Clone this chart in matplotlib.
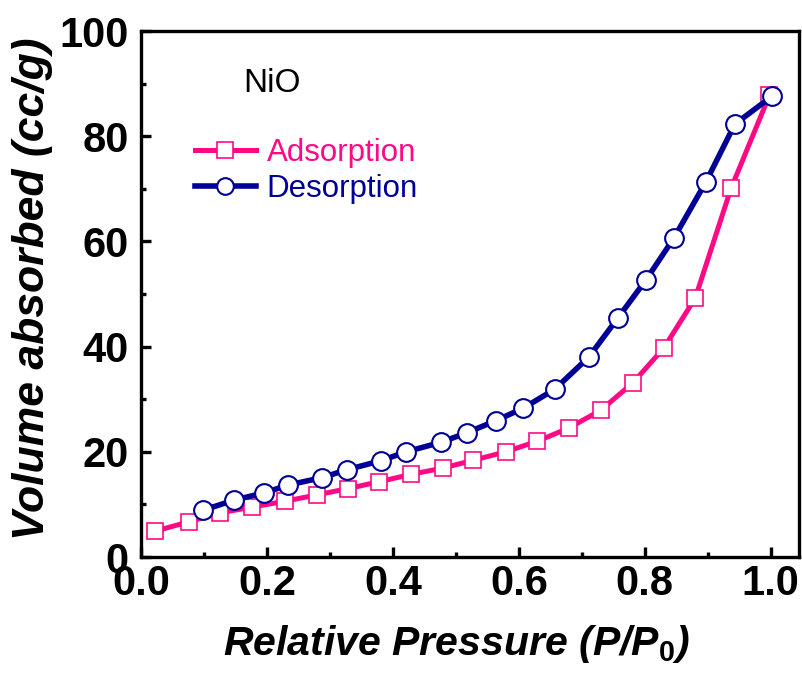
import matplotlib
matplotlib.use("Agg")
import matplotlib.pyplot as plt
from matplotlib.ticker import MultipleLocator, FormatStrFormatter

plt.rcParams["font.family"] = ["Liberation Sans", "DejaVu Sans"]
plt.rcParams["mathtext.fontset"] = "custom"
plt.rcParams["mathtext.it"] = "Liberation Sans:italic:bold"
plt.rcParams["mathtext.rm"] = "Liberation Sans:bold"

# adsorption branch (squares)
ads_p = [0.022, 0.076, 0.126, 0.177, 0.228, 0.279, 0.328, 0.378, 0.428, 0.479,
         0.528, 0.579, 0.629, 0.679, 0.730, 0.781, 0.830, 0.880, 0.937, 0.998]
ads_v = [4.9, 6.7, 8.4, 9.5, 10.6, 11.8, 13.0, 14.3, 15.7, 16.9,
         18.4, 20.0, 22.0, 24.5, 27.9, 33.1, 39.7, 49.2, 70.1, 87.8]

# desorption branch (circles)
des_p = [0.099, 0.147, 0.196, 0.234, 0.288, 0.327, 0.381, 0.421, 0.476, 0.517,
         0.563, 0.607, 0.657, 0.711, 0.757, 0.802, 0.846, 0.897, 0.943, 1.002]
des_v = [8.9, 10.8, 12.2, 13.7, 15.1, 16.6, 18.3, 20.0, 21.8, 23.6,
         25.9, 28.3, 31.9, 38.0, 45.4, 52.7, 60.6, 71.3, 82.3, 87.6]

pink = "#ff0a84"
navy = "#000096"

fig = plt.figure(figsize=(8.03, 6.75), dpi=100)
ax = fig.add_axes([0.1756, 0.1748, 0.8195, 0.7792])

ax.plot(ads_p, ads_v, color=pink, linewidth=3.6, marker="s", markersize=12,
        markerfacecolor="white", markeredgecolor=pink, markeredgewidth=1.2,
        label="Adsorption")
ax.plot(des_p, des_v, color=navy, linewidth=4.0, marker="o", markersize=13.5,
        markerfacecolor="white", markeredgecolor=navy, markeredgewidth=1.5,
        label="Desorption")

ax.set_xlim(0, 1.045)
ax.set_ylim(0, 100)
ax.xaxis.set_major_locator(MultipleLocator(0.2))
ax.xaxis.set_minor_locator(MultipleLocator(0.1))
ax.yaxis.set_major_locator(MultipleLocator(20))
ax.yaxis.set_minor_locator(MultipleLocator(10))
ax.xaxis.set_major_formatter(FormatStrFormatter("%.1f"))

for s in ax.spines.values():
    s.set_linewidth(2.4)
ax.tick_params(which="both", direction="in", top=False, right=False, width=2.4)
ax.tick_params(which="major", length=7, labelsize=30)
ax.tick_params(which="minor", length=3.6)
ax.tick_params(axis="x", which="major", pad=5)
ax.tick_params(axis="y", which="major", pad=9)
for lab in ax.get_xticklabels() + ax.get_yticklabels():
    lab.set_fontweight("bold")

ax.set_xlabel(r"Relative Pressure (P/P$_{\mathit{0}}$)", fontsize=29.5,
              fontweight="bold", fontstyle="italic")
ax.xaxis.set_label_coords(0.48, -0.125)
ax.set_ylabel("Volume absorbed (cc/g)", fontsize=32, fontweight="bold",
              fontstyle="italic")
ax.yaxis.set_label_coords(-0.133, 0.511)

ax.text(0.155, 0.9, "NiO", transform=ax.transAxes, fontsize=24,
        ha="left", va="center")

leg = ax.legend(loc="upper left", bbox_to_anchor=(0.082, 0.797), frameon=False,
                fontsize=22.5, handlelength=1.95, handletextpad=0.35,
                labelspacing=0.2, borderpad=0, borderaxespad=0,
                labelcolor="linecolor")
for h in leg.legend_handles:
    h.set_markersize(12)

fig.savefig("out.png", dpi=100)
